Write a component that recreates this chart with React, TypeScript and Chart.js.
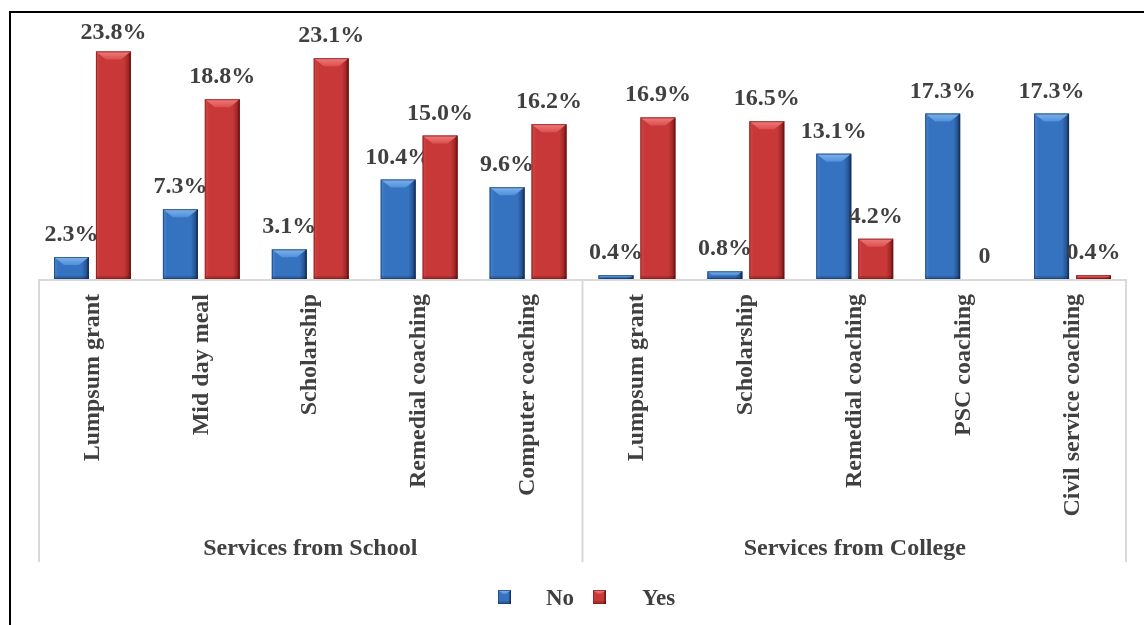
import React, { useEffect, useRef } from 'react';
import { Chart, registerables } from 'chart.js';

Chart.register(...registerables);

const categories = [
  'Lumpsum grant',
  'Mid day meal',
  'Scholarship',
  'Remedial coaching',
  'Computer coaching',
  'Lumpsum grant',
  'Scholarship',
  'Remedial coaching',
  'PSC coaching',
  'Civil service coaching',
];
const groupNames = ['Services from School', 'Services from College'];
const groupSizes = [5, 5];
const seriesNames = ['No', 'Yes'];
const noValues = [2.3, 7.3, 3.1, 10.4, 9.6, 0.4, 0.8, 13.1, 17.3, 17.3];
const yesValues = [23.8, 18.8, 23.1, 15.0, 16.2, 16.9, 16.5, 4.2, 0, 0.4];

const SERIF = '"Liberation Serif", "Times New Roman", serif';
const TEXT = '#404040';

const PALETTES = [
  { body: '#3572c0', left: '#4a86d2', dark: '#1d4278', top: '#7fb4ec', top2: '#4f8fd8', edge: 'rgba(20,45,90,0.6)' },
  { body: '#c83838', left: '#d44848', dark: '#8a1d1d', top: '#f07c7c', top2: '#dc4f4f', edge: 'rgba(110,20,20,0.6)' },
];

type Pal = typeof PALETTES[number];

function drawBevel(ctx: CanvasRenderingContext2D, x0: number, x1: number, yt: number, yb: number, pal: Pal, maxB = 8) {
  const w = x1 - x0;
  const h = yb - yt;
  if (h <= 0.5 || w <= 0) return;
  ctx.save();
  const g = ctx.createLinearGradient(x0, 0, x1, 0);
  g.addColorStop(0, pal.left);
  g.addColorStop(0.12, pal.body);
  g.addColorStop(0.8, pal.body);
  g.addColorStop(1, pal.dark);
  ctx.fillStyle = g;
  ctx.fillRect(x0, yt, w, h);
  const bt = Math.min(maxB, h / 2);
  const bs = Math.min(maxB * 1.25, w / 2.5, bt * 1.3);
  const bb = Math.min(3, h / 3);
  ctx.fillStyle = 'rgba(0,0,0,0.15)';
  ctx.fillRect(x0, yb - bb, w, bb);
  ctx.fillStyle = 'rgba(0,0,0,0.18)';
  ctx.fillRect(x1 - 2, yt, 2, h);
  const tg = ctx.createLinearGradient(0, yt, 0, yt + bt);
  tg.addColorStop(0, pal.top);
  tg.addColorStop(1, pal.top2);
  ctx.fillStyle = tg;
  ctx.beginPath();
  ctx.moveTo(x0, yt);
  ctx.lineTo(x1, yt);
  ctx.lineTo(x1 - bs, yt + bt);
  ctx.lineTo(x0 + bs, yt + bt);
  ctx.closePath();
  ctx.fill();
  ctx.strokeStyle = pal.edge;
  ctx.lineWidth = 1;
  ctx.strokeRect(x0 + 0.5, yt + 0.5, w - 1, Math.max(h - 1, 0));
  ctx.restore();
}

const decor = {
  id: 'decor',
  beforeDraw(chart: any) {
    const ctx: CanvasRenderingContext2D = chart.ctx;
    ctx.save();
    ctx.fillStyle = '#ffffff';
    ctx.fillRect(0, 0, chart.width, chart.height);
    ctx.fillStyle = '#000000';
    ctx.fillRect(9, 11, chart.width - 9, 2);
    ctx.fillRect(9, 11, 2, chart.height - 11);
    ctx.restore();
  },
  afterDatasetsDraw(chart: any) {
    const ctx: CanvasRenderingContext2D = chart.ctx;
    chart.data.datasets.forEach((ds: any, di: number) => {
      const meta = chart.getDatasetMeta(di);
      const pal = PALETTES[di];
      meta.data.forEach((el: any, i: number) => {
        const p = el.getProps(['x', 'y', 'base', 'width'], true);
        const x0 = p.x - p.width / 2;
        const x1 = p.x + p.width / 2;
        drawBevel(ctx, x0, x1, Math.min(p.y, p.base), Math.max(p.y, p.base), pal);
        const v = ds.data[i] as number;
        const txt = v === 0 ? '0' : v.toFixed(1) + '%';
        ctx.save();
        ctx.font = `bold 24px ${SERIF}`;
        ctx.fillStyle = TEXT;
        ctx.textAlign = 'center';
        ctx.textBaseline = 'alphabetic';
        ctx.fillText(txt, p.x, Math.max(p.y - 16, 39));
        ctx.restore();
      });
    });
  },
  afterDraw(chart: any) {
    const ctx: CanvasRenderingContext2D = chart.ctx;
    const xs = chart.scales.x;
    const area = chart.chartArea;
    const bottom = xs.bottom;
    ctx.save();
    ctx.strokeStyle = '#d9d9d9';
    ctx.lineWidth = 2;
    ctx.beginPath();
    ctx.moveTo(area.left, area.bottom + 1);
    ctx.lineTo(area.right, area.bottom + 1);
    const n = categories.length;
    const step = (area.right - area.left) / n;
    let idx = 0;
    const bounds: number[] = [area.left];
    groupSizes.forEach((s) => {
      idx += s;
      bounds.push(area.left + idx * step);
    });
    bounds.forEach((bx, k) => {
      const xx = k === 0 ? bx + 1 : k === bounds.length - 1 ? bx - 1 : bx;
      ctx.moveTo(xx, area.bottom);
      ctx.lineTo(xx, bottom);
    });
    ctx.stroke();
    ctx.font = `bold 24px ${SERIF}`;
    ctx.fillStyle = TEXT;
    ctx.textAlign = 'center';
    ctx.textBaseline = 'alphabetic';
    groupNames.forEach((g, k) => {
      ctx.fillText(g, (bounds[k] + bounds[k + 1]) / 2, bottom - 7);
    });
    const legendItems = [
      { mx: 498, tx: 546 },
      { mx: 593, tx: 642 },
    ];
    ctx.font = `bold 23px ${SERIF}`;
    ctx.textAlign = 'left';
    ctx.textBaseline = 'alphabetic';
    chart.data.datasets.forEach((ds: any, di: number) => {
      const it = legendItems[di];
      drawBevel(ctx, it.mx, it.mx + 13, 590, 604, PALETTES[di], 4);
      ctx.fillStyle = TEXT;
      ctx.fillText(ds.label, it.tx, 605);
    });
    ctx.restore();
  },
};

export default function App() {
  const ref = useRef<HTMLCanvasElement>(null);
  useEffect(() => {
    const chart = new Chart(ref.current as HTMLCanvasElement, {
      type: 'bar',
      data: {
        labels: categories,
        datasets: [
          { label: seriesNames[0], data: noValues, backgroundColor: PALETTES[0].body, borderWidth: 0 },
          { label: seriesNames[1], data: yesValues, backgroundColor: PALETTES[1].body, borderWidth: 0 },
        ],
      },
      options: {
        responsive: false,
        animation: false,
        layout: { padding: { left: 38, right: 17, top: 40, bottom: 63 } },
        datasets: { bar: { categoryPercentage: 0.77, barPercentage: 0.833 } },
        scales: {
          x: {
            grid: { display: false, drawTicks: false },
            border: { display: false },
            ticks: {
              autoSkip: false,
              minRotation: 90,
              maxRotation: 90,
              padding: 15,
              color: TEXT,
              font: { family: SERIF, size: 24, weight: 'bold' },
            },
            afterFit: (s: any) => {
              s.height = 283;
            },
          },
          y: { display: false, min: 0, max: 25 },
        },
        plugins: { legend: { display: false }, tooltip: { enabled: false } },
      } as any,
      plugins: [decor],
    });
    return () => chart.destroy();
  }, []);
  return (
    <div style={{ position: 'absolute', left: 0, top: 0, width: 1144, height: 625, background: '#fff' }}>
      <canvas ref={ref} width={1144} height={625} style={{ display: 'block', width: 1144, height: 625 }} />
    </div>
  );
}
